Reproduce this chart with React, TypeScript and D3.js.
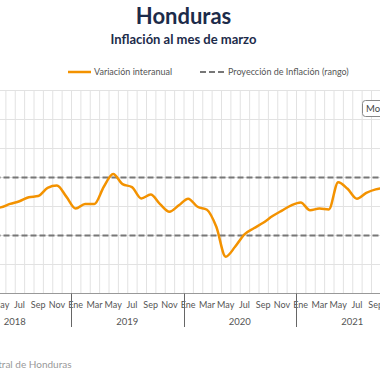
import React from "react";
import * as d3 from "d3";

const monthNames = ["Ene", "Feb", "Mar", "Abr", "May", "Jun", "Jul", "Ago", "Sep", "Oct", "Nov", "Dic"];
const years = [2018, 2019, 2020, 2021];
// Variación interanual (%), Jan 2018 .. Oct 2021
const inflation = [
  4.5, 4.4, 4.2, 3.95, 3.97, 4.09, 4.18, 4.32, 4.36, 4.64, 4.72, 4.34,
  3.93, 4.09, 4.09, 4.68, 5.12, 4.77, 4.67, 4.28, 4.41, 4.08, 3.82, 4.04,
  4.27, 3.99, 3.89, 3.3, 2.27, 2.61, 3.04, 3.25, 3.44, 3.67, 3.86, 4.04,
  4.14, 3.87, 3.93, 3.9, 4.84, 4.61, 4.27, 4.47, 4.59, 4.65,
];
const rangeLow = 3;
const rangeHigh = 5;
const yTicks = [1, 2, 3, 4, 5, 6, 7, 8];

const W = 380;
const H = 380;
const FONT = "Lato, 'Open Sans', sans-serif";

export default function App() {
  const months: string[] = [];
  years.forEach((y) => monthNames.forEach((m, i) => months.push(`${y}-${i}`)));

  const x = d3.scaleBand<string>().domain(months).range([-41.5, -41.5 + months.length * 9.375]).paddingInner(0).paddingOuter(0);
  const y = d3.scaleLinear().domain([1, 8]).range([293.5, 90.5]);
  const bw = x.bandwidth();

  const pts = inflation.map((v, i) => [x(months[i])! + bw / 2, y(v)] as [number, number]);
  const line = d3.line().curve(d3.curveMonotoneX)(pts) || "";

  const plotLeft = -41.5;
  const plotRight = W;
  const bottom = y(1);

  return (
    <svg width={W} height={H} style={{ position: "absolute", left: 0, top: 0, background: "#fff" }} fontFamily={FONT}>
      <rect x={0} y={0} width={W} height={H} fill="#fff" />
      <text x={183.5} y={24} textAnchor="middle" fontSize={22} fontWeight={700} fill="#1c2b4a">Honduras</text>
      <text x={183.5} y={43.5} textAnchor="middle" fontSize={13} fontWeight={700} fill="#1c2b4a">Inflación al mes de marzo</text>

      {/* legend */}
      <line x1={68} x2={91} y1={72} y2={72} stroke="#f39200" strokeWidth={2.5} />
      <text x={94} y={75} fontSize={9} fill="#555">Variación interanual</text>
      <line x1={200} x2={226} y1={72} y2={72} stroke="#777" strokeWidth={2} strokeDasharray="6,3" />
      <text x={228} y={75} fontSize={9} fill="#555">Proyección de Inflación (rango)</text>

      {/* horizontal grid */}
      {yTicks.map((t) => (
        <line key={t} x1={plotLeft} x2={plotRight} y1={y(t)} y2={y(t)} stroke="#e2e2e2" strokeWidth={1} />
      ))}
      {/* vertical grid */}
      {months.map((m) => (
        <line key={m} x1={x(m)! + 0.5} x2={x(m)! + 0.5} y1={90.5} y2={bottom} stroke="#e2e2e2" strokeWidth={1} />
      ))}

      {/* range lines */}
      {[rangeLow, rangeHigh].map((v) => (
        <line key={v} x1={plotLeft} x2={plotRight} y1={y(v)} y2={y(v)} stroke="#777" strokeWidth={2} strokeDasharray="6,3" />
      ))}

      {/* series */}
      <path d={line} fill="none" stroke="#f39200" strokeWidth={2.5} strokeLinejoin="round" />

      {/* axis */}
      <line x1={plotLeft} x2={plotRight} y1={bottom} y2={bottom} stroke="#999" strokeWidth={1} />
      {months.map((m, i) => {
        const cx = x(m)! + bw / 2;
        return i % 2 === 0 && cx > -8 && cx < W + 8 ? (
          <text key={m} x={cx} y={308} textAnchor="middle" fontSize={9} fill="#555">
            {monthNames[i % 12]}
          </text>
        ) : null;
      })}
      {years.map((yr) => {
        const start = x(`${yr}-0`)!;
        const end = start + 12 * bw;
        return (
          <g key={yr}>
            <line x1={Math.round(start) + 0.5} x2={Math.round(start) + 0.5} y1={bottom} y2={327} stroke="#666" strokeWidth={1} />
            <text x={(start + end) / 2} y={325} textAnchor="middle" fontSize={9.5} fill="#555">{yr}</text>
          </g>
        );
      })}

      {/* button */}
      <rect x={362.5} y={100.5} width={60} height={16} rx={3} fill="#fff" stroke="#888" strokeWidth={1} />
      <text x={366} y={112} fontSize={9.5} fill="#444">Mostrar</text>

      <text x={71.5} y={368} textAnchor="end" fontSize={10} fill="#999">Fuente: Banco Central de Honduras</text>
    </svg>
  );
}
